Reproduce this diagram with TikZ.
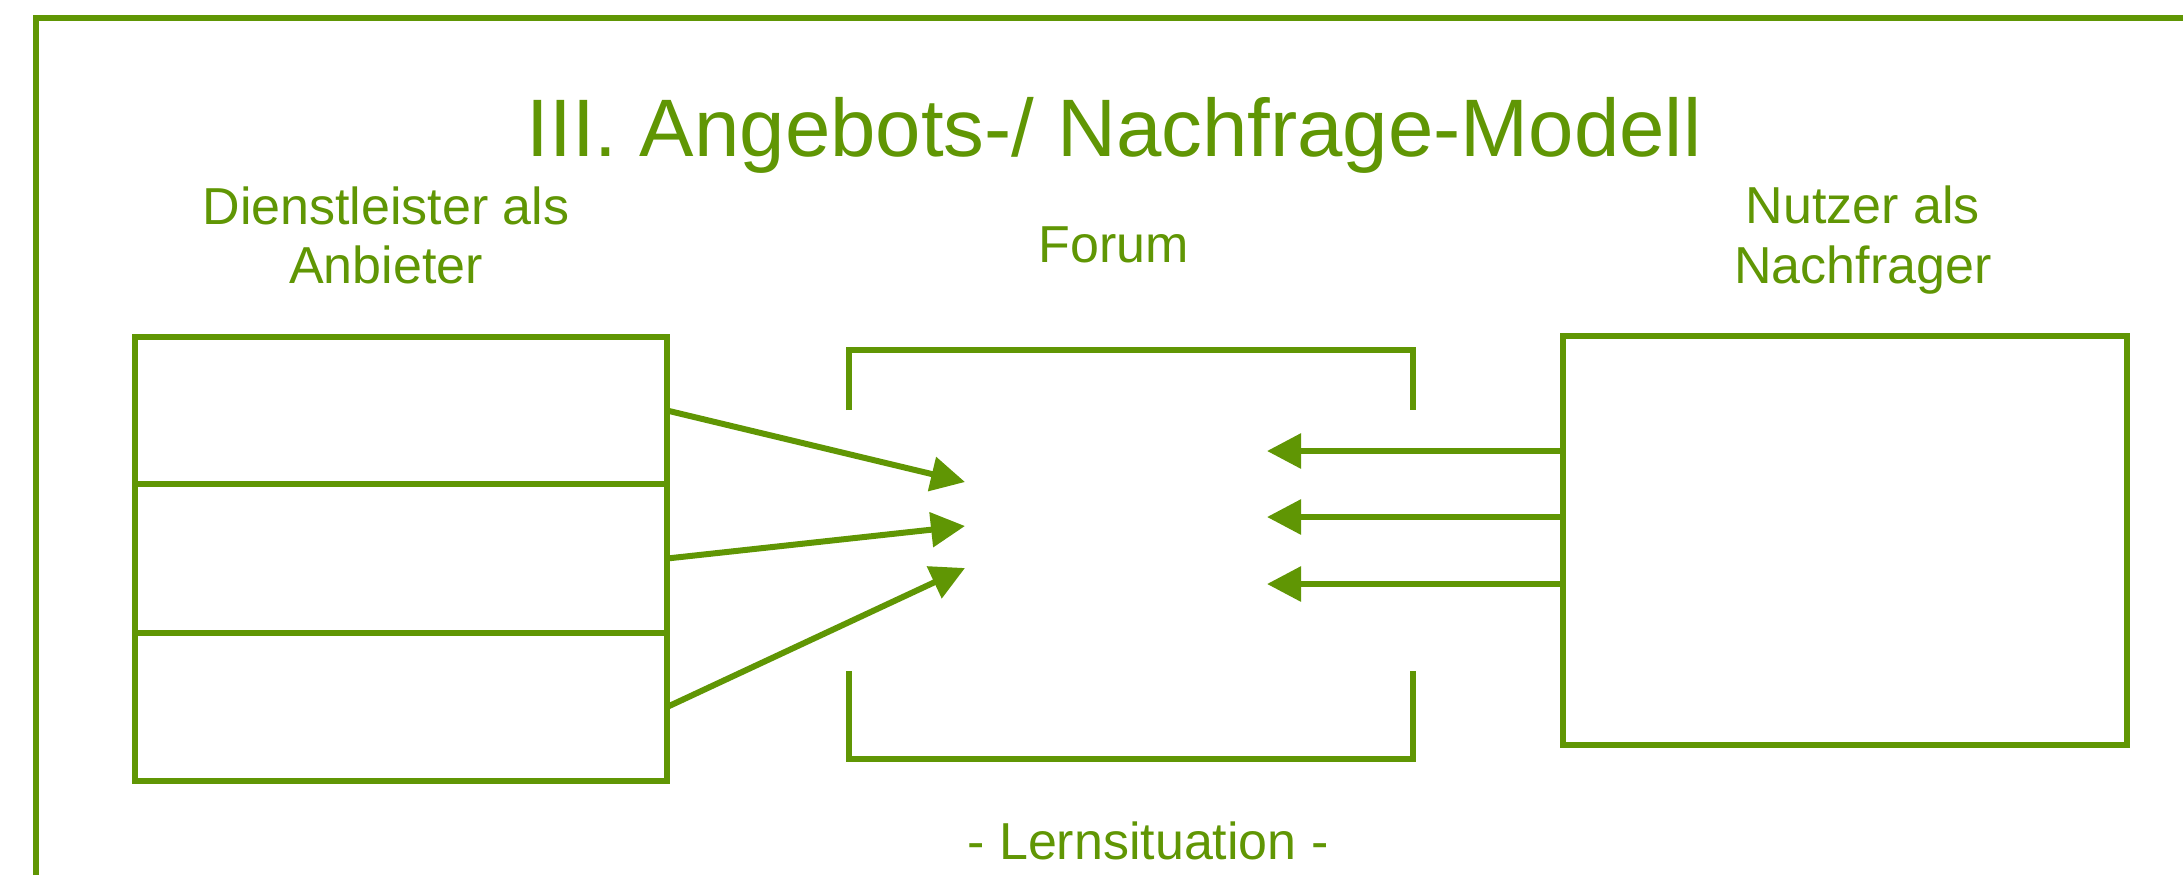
\documentclass[tikz,border=0pt]{standalone}
\usepackage{fontspec}
\setmainfont{Liberation Sans}
\usetikzlibrary{arrows.meta}
\definecolor{grn}{RGB}{96,150,4}
\tikzset{
  ln/.style={draw=grn, line width=3pt},
  boxnode/.style={ln, rectangle, inner sep=0pt, outer sep=0pt},
  lbl/.style={text=grn, font=\fontsize{26}{29}\selectfont, align=center, inner sep=0pt},
  ttl/.style={text=grn, font=\fontsize{40.8}{46}\selectfont, inner sep=0pt},
  flow/.style={ln, -{Triangle[length=17pt,width=17pt]}}
}
\begin{document}
\begin{tikzpicture}[x=0.5pt,y=-0.5pt]
\useasboundingbox (0,0) rectangle (2183,875);
% frame (open to the right and below)
\draw[ln] (36,875) -- (36,18) -- (2183,18);

% headings
\node[ttl, anchor=base] (title) at (1114,156) {III. Angebots-/ Nachfrage-Modell};
\node[lbl, anchor=base] (anbL1) at (386,224) {Dienstleister als};
\node[lbl, anchor=base] (anbL2) at (386,283) {Anbieter};
\node[lbl, anchor=base] (forumL) at (1114,262) {Forum};
\node[lbl, anchor=base] (nutzL1) at (1863,223) {Nutzer als};
\node[lbl, anchor=base] (nutzL2) at (1863,283) {Nachfrager};
\node[lbl, anchor=base] (lern) at (1148,859) {- Lernsituation -};

% providers: three stacked boxes
\node[boxnode, minimum width=266pt, minimum height=73.5pt] (p1) at (401,410.5) {};
\node[boxnode, minimum width=266pt, minimum height=74.5pt] (p2) at (401,558.5) {};
\node[boxnode, minimum width=266pt, minimum height=74pt] (p3) at (401,707) {};

% users
\node[boxnode, minimum width=282pt, minimum height=204.5pt] (u) at (1845,540.5) {};

% forum brackets
\draw[ln] (849,410) -- (849,350) -- (1413,350) -- (1413,410);
\draw[ln] (849,671) -- (849,759) -- (1413,759) -- (1413,671);

% arrow tips inside the forum
\coordinate (f1) at (965,482);
\coordinate (f2) at (965,526);
\coordinate (f3) at (965,568);
\coordinate (g1) at (1267,451);
\coordinate (g2) at (1267,517);
\coordinate (g3) at (1267,584);

% offers flowing in
\draw[flow] (p1.east) -- (f1);
\draw[flow] (p2.east) -- (f2);
\draw[flow] (p3.east) -- (f3);

% demands flowing in
\draw[flow] (u.west |- g1) -- (g1);
\draw[flow] (u.west |- g2) -- (g2);
\draw[flow] (u.west |- g3) -- (g3);
\end{tikzpicture}
\end{document}
